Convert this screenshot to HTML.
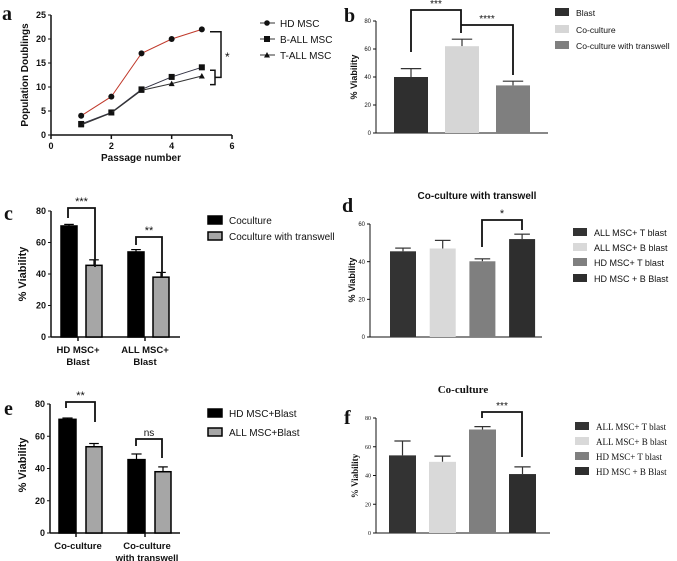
<!DOCTYPE html>
<html><head><meta charset="utf-8"><style>
html,body{margin:0;padding:0;background:#fff}
svg{display:block}
text{font-family:"Liberation Sans",Arial,sans-serif;fill:#111}
.serif{font-family:"Liberation Serif",serif}
</style></head><body>
<svg id="fig" width="677" height="561" viewBox="0 0 677 561" xmlns="http://www.w3.org/2000/svg"></svg>
<script>
// ---- Panel a data ----
const aPassages = [1, 2, 3, 4, 5];
const aHD = [4, 8, 17, 20, 22];
const aBALL = [2.3, 4.7, 9.5, 12.1, 14.1];
const aTALL = [2.1, 4.6, 9.3, 10.7, 12.3];
const aXTicks = [0, 2, 4, 6];
const aYTicks = [0, 5, 10, 15, 20, 25];
// ---- Panel b data ----
const bCats = ["Blast", "Co-culture", "Co-culture with transwell"];
const bVals = [40, 62, 34];
const bErr = [6, 5, 3];
const bTicks = [0, 20, 40, 60, 80];
// ---- Panel c data ----
const cGroups = ["HD MSC+|Blast", "ALL MSC+|Blast"];
const cSeries = ["Coculture", "Coculture with transwell"];
const cVals1 = [70.5, 54];
const cVals2 = [45.5, 38];
const cErr1 = [1, 1.5];
const cErr2 = [3.5, 3];
const cTicks = [0, 20, 40, 60, 80];
// ---- Panel d data ----
const dCats = ["ALL MSC+ T blast", "ALL MSC+ B blast", "HD MSC+ T blast", "HD MSC + B Blast"];
const dVals = [45.5, 47, 40.2, 52];
const dErr = [1.7, 4.3, 1.3, 2.6];
const dTicks = [0, 20, 40, 60];
// ---- Panel e data ----
const eGroups = ["Co-culture|", "Co-culture|with transwell"];
const eSeries = ["HD MSC+Blast", "ALL MSC+Blast"];
const eVals1 = [70.5, 45.5];
const eVals2 = [53.5, 38];
const eErr1 = [0.8, 3.5];
const eErr2 = [2, 3];
const eTicks = [0, 20, 40, 60, 80];
// ---- Panel f data ----
const fCats = ["ALL MSC+ T blast", "ALL MSC+ B blast", "HD MSC+ T blast", "HD MSC + B Blast"];
const fVals = [54, 49.5, 72, 41];
const fErr = [10, 4, 2, 5];
const fTicks = [0, 20, 40, 60, 80];

const NS = "http://www.w3.org/2000/svg";
const svg = document.getElementById("fig");
function mk(tag, attrs, parent, txt) {
  const e = document.createElementNS(NS, tag);
  for (const k in attrs) e.setAttribute(k, attrs[k]);
  if (txt !== undefined) e.textContent = txt;
  (parent || svg).appendChild(e);
  return e;
}
function grp(name) {
  const g = mk("g", {});
  
  
  return g;
}
function lin(scale0, scale1, d0, d1) { return v => scale0 + (v - d0) * (scale1 - scale0) / (d1 - d0); }

function yAxis(g, x, y, ticks, x2, fs, serif, bold) {
  const ax = mk("line", {x1: x, y1: y(ticks[0]), x2: x, y2: y(ticks[ticks.length - 1]), stroke: "#111", "stroke-width": bold ? 1.5 : 1}, g);
  
  
  const bx = mk("line", {x1: x, y1: y(ticks[0]), x2: x2, y2: y(ticks[0]), stroke: "#111", "stroke-width": bold ? 1.5 : 1}, g);
  
  
  ticks.forEach(t => {
    const tk = mk("line", {x1: x - 3, y1: y(t), x2: x, y2: y(t), stroke: "#111"}, g);
    
    
    const lb = mk("text", {x: x - 5, y: y(t) + fs * 0.35, "font-size": fs, "text-anchor": "end", "font-weight": bold ? "bold" : "normal", class: serif ? "serif" : ""}, g, String(t));
    
    
  });
}
function yTitle(g, x, y, txt, fs, serif) {
  const t = mk("text", {x: x, y: y, "font-size": fs, "font-weight": "bold", "text-anchor": "middle", transform: `rotate(-90 ${x} ${y})`, class: serif ? "serif" : ""}, g, txt);
  
  
}
function panelLabel(g, x, y, txt) {
  const t = mk("text", {x: x, y: y, "font-size": 20, "font-weight": "bold", class: "serif"}, g, txt);
  
  
}
function bar(g, x, w, y, v, e, fill, stroke) {
  const er = mk("line", {x1: x + w / 2, y1: y(v), x2: x + w / 2, y2: y(v + e), stroke: stroke || "#333", "stroke-width": 1.2}, g);
  
  
  const cap = mk("line", {x1: x + w / 2 - w * 0.3, y1: y(v + e), x2: x + w / 2 + w * 0.3, y2: y(v + e), stroke: stroke || "#333", "stroke-width": 1.2}, g);
  
  
  const r = mk("rect", {x: x, y: y(v), width: w, height: y(0) - y(v), fill: fill, stroke: stroke || "none", "stroke-width": stroke ? 1.5 : 0}, g);
  
  
}
function bracket(g, x1, x2, top, yl, yr, label, fs) {
  const p = mk("path", {d: `M${x1},${yl} V${top} H${x2} V${yr}`, fill: "none", stroke: "#111", "stroke-width": 1.8}, g);
  
  
  const t = mk("text", {x: (x1 + x2) / 2, y: top - 3, "font-size": fs || 11, "text-anchor": "middle"}, g, label);
  
  
}
function legend(g, x, ys, labels, fills, strokes, fs, serif) {
  labels.forEach((l, i) => {
    const r = mk("rect", {x: x, y: ys[i] - 4, width: 14, height: 8, fill: fills[i], stroke: strokes ? strokes[i] : "none", "stroke-width": 1.5}, g);
    
    
    const t = mk("text", {x: x + 21, y: ys[i] + 4, "font-size": fs, class: serif ? "serif" : ""}, g, l);
    
    
  });
}

// ===== Panel a =====
(function () {
  const g = grp("panel-a-line-chart");
  panelLabel(g, 2, 20, "a");
  const x = lin(51, 232, 0, 6), y = lin(135, 15, 0, 25);
  yAxis(g, 51, y, aYTicks, 232, 9, false, true);
  aXTicks.forEach(t => {
    const tk = mk("line", {x1: x(t), y1: 135, x2: x(t), y2: 139, stroke: "#111", "stroke-width": 1.5}, g);
    
    
    const lb = mk("text", {x: x(t), y: 149, "font-size": 9, "font-weight": "bold", "text-anchor": "middle"}, g, String(t));
    
    
  });
  yTitle(g, 28, 75, "Population Doublings", 10);
  const xt = mk("text", {x: 141, y: 161, "font-size": 10, "font-weight": "bold", "text-anchor": "middle"}, g, "Passage number");
  
  
  const series = [[aHD, "#c0392b", "circle"], [aBALL, "#334", "square"], [aTALL, "#333", "triangle"]];
  series.forEach(([vals, col, m]) => {
    const pl = mk("polyline", {points: aPassages.map((p, i) => x(p) + "," + y(vals[i])).join(" "), fill: "none", stroke: col, "stroke-width": 1}, g);
    
    
    aPassages.forEach((p, i) => {
      let el;
      if (m === "circle") el = mk("circle", {cx: x(p), cy: y(vals[i]), r: 3, fill: "#111"}, g);
      else if (m === "square") el = mk("rect", {x: x(p) - 3, y: y(vals[i]) - 3, width: 6, height: 6, fill: "#111"}, g);
      else el = mk("path", {d: `M${x(p) - 3},${y(vals[i]) + 2.5} L${x(p)},${y(vals[i]) - 3} L${x(p) + 3},${y(vals[i]) + 2.5}Z`, fill: "#111"}, g);
      
      
    });
  });
  const br1 = mk("path", {d: `M210,${y(13.5)} H215 V${y(10.5)} H210`, fill: "none", stroke: "#111", "stroke-width": 1.5}, g);
  
  
  const br2 = mk("path", {d: `M210,${y(21.5)} H221 V${y(12)} H215`, fill: "none", stroke: "#111", "stroke-width": 1.5}, g);
  
  
  const st = mk("text", {x: 225, y: 61, "font-size": 12}, g, "*");
  
  
  const lnames = ["HD MSC", "B-ALL MSC", "T-ALL MSC"], ly = [23, 39, 55], mks = ["circle", "square", "triangle"];
  lnames.forEach((n, i) => {
    const l = mk("line", {x1: 260, y1: ly[i], x2: 275, y2: ly[i], stroke: "#333"}, g);
    
    
    let el;
    if (mks[i] === "circle") el = mk("circle", {cx: 267, cy: ly[i], r: 2.8, fill: "#111"}, g);
    else if (mks[i] === "square") el = mk("rect", {x: 264, y: ly[i] - 3, width: 6, height: 6, fill: "#111"}, g);
    else el = mk("path", {d: `M264,${ly[i] + 2.5} L267,${ly[i] - 3} L270,${ly[i] + 2.5}Z`, fill: "#111"}, g);
    
    
    const t = mk("text", {x: 280, y: ly[i] + 4, "font-size": 10}, g, n);
    
    
  });
})();

// ===== Panel b =====
(function () {
  const g = grp("panel-b-bar-chart");
  panelLabel(g, 344, 22, "b");
  const y = lin(133, 21, 0, 80);
  yAxis(g, 376, y, bTicks, 548, 6, false, false);
  yTitle(g, 357, 77, "% Viability", 9);
  const fills = ["#2f2f2f", "#d6d6d6", "#7f7f7f"];
  bCats.forEach((c, i) => bar(g, 394 + i * 51, 34, y, bVals[i], bErr[i], fills[i]));
  bracket(g, 411, 461, 10, 52, 33, "***", 10);
  bracket(g, 461, 513, 25, 25, 75, "****", 10);
  legend(g, 555, [12, 29, 45], bCats, fills, null, 8.6);
})();

// ===== Panel c =====
(function () {
  const g = grp("panel-c-grouped-bar-chart");
  panelLabel(g, 4, 220, "c");
  const y = lin(337, 211, 0, 80);
  yAxis(g, 51, y, cTicks, 180, 9, false, true);
  yTitle(g, 26, 274, "% Viability", 11);
  cGroups.forEach((gname, i) => {
    const gx = 61 + i * 67;
    bar(g, gx, 16, y, cVals1[i], cErr1[i], "#000", "#000");
    bar(g, gx + 25, 16, y, cVals2[i], cErr2[i], "#a6a6a6", "#000");
    const tk = mk("line", {x1: gx + 17, y1: 337, x2: gx + 17, y2: 341, stroke: "#111", "stroke-width": 1.5}, g);
    
    
    gname.split("|").forEach((ln, k) => {
      const t = mk("text", {x: gx + 17, y: 353 + k * 12, "font-size": 9.5, "font-weight": "bold", "text-anchor": "middle"}, g, ln);
      
      
    });
  });
  bracket(g, 68, 95, 208, 218, 267, "***", 11);
  bracket(g, 136, 162, 237, 245, 277, "**", 11);
  legend(g, 208, [220, 236], cSeries, ["#000", "#a6a6a6"], ["#000", "#000"], 10);
})();

// ===== Panel d =====
(function () {
  const g = grp("panel-d-bar-chart");
  panelLabel(g, 342, 212, "d");
  const tt = mk("text", {x: 477, y: 199, "font-size": 10, "font-weight": "bold", "text-anchor": "middle"}, g, "Co-culture with transwell");
  
  
  const y = lin(337, 224, 0, 60);
  yAxis(g, 370, y, dTicks, 542, 6, false, false);
  yTitle(g, 355, 280, "% Viability", 9);
  const fills = ["#333", "#d9d9d9", "#7f7f7f", "#2e2e2e"];
  dCats.forEach((c, i) => bar(g, 390 + i * 39.7, 26, y, dVals[i], dErr[i], fills[i]));
  bracket(g, 482, 522, 220, 247, 230, "*", 11);
  legend(g, 573, [232, 247, 262, 278], dCats, fills, null, 9);
})();

// ===== Panel e =====
(function () {
  const g = grp("panel-e-grouped-bar-chart");
  panelLabel(g, 4, 415, "e");
  const y = lin(533, 404, 0, 80);
  yAxis(g, 50, y, eTicks, 180, 9, false, true);
  yTitle(g, 26, 465, "% Viability", 11);
  eGroups.forEach((gname, i) => {
    const gx = 59 + i * 69;
    bar(g, gx, 17, y, eVals1[i], eErr1[i], "#000", "#000");
    bar(g, gx + 27, 16, y, eVals2[i], eErr2[i], "#a6a6a6", "#000");
    const tk = mk("line", {x1: gx + 17, y1: 533, x2: gx + 17, y2: 537, stroke: "#111", "stroke-width": 1.5}, g);
    
    
    gname.split("|").forEach((ln, k) => {
      const t = mk("text", {x: gx + 19, y: 549 + k * 12, "font-size": 9.5, "font-weight": "bold", "text-anchor": "middle"}, g, ln);
      
      
    });
  });
  bracket(g, 66, 95, 402, 408, 422, "**", 11);
  bracket(g, 136, 162, 439, 446, 458, "ns", 10);
  legend(g, 208, [413, 432], eSeries, ["#000", "#a6a6a6"], ["#000", "#000"], 10);
})();

// ===== Panel f =====
(function () {
  const g = grp("panel-f-bar-chart");
  panelLabel(g, 344, 424, "f");
  const tt = mk("text", {x: 463, y: 393, "font-size": 11, "font-weight": "bold", "text-anchor": "middle", class: "serif"}, g, "Co-culture");
  
  
  const y = lin(533, 418, 0, 80);
  yAxis(g, 376, y, fTicks, 550, 6, true, false);
  yTitle(g, 358, 476, "% Viability", 9, true);
  const fills = ["#333", "#d9d9d9", "#7f7f7f", "#2e2e2e"];
  fCats.forEach((c, i) => bar(g, 389 + i * 40, 27, y, fVals[i], fErr[i], fills[i]));
  bracket(g, 482, 522, 412, 418, 457, "***", 10);
  legend(g, 575, [426, 441, 456, 471], fCats, fills, null, 9, true);
})();
</script>
</body></html>
